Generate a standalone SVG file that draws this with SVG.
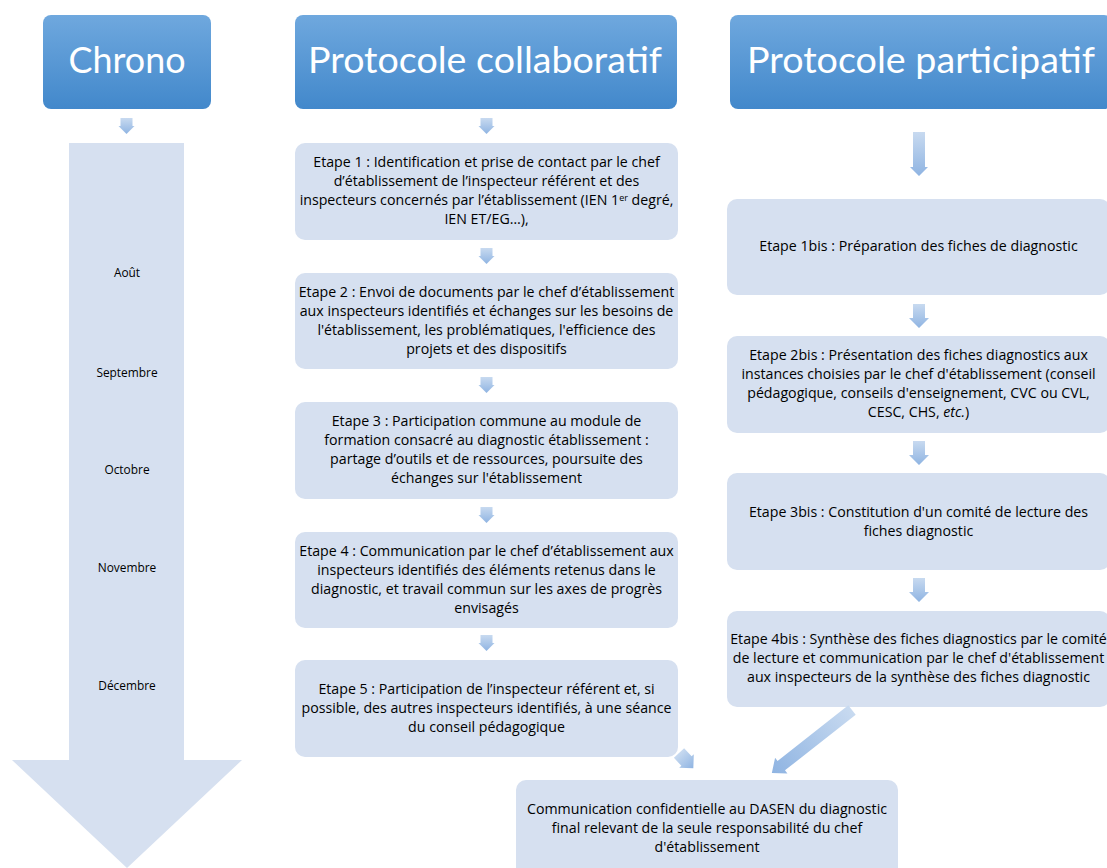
<svg xmlns="http://www.w3.org/2000/svg" width="1107" height="868" viewBox="0 0 1107 868">
  <defs>
    <linearGradient id="hdrFill" x1="0" y1="0" x2="0" y2="1">
      <stop offset="0" stop-color="#6FA8DE"/>
      <stop offset="1" stop-color="#4288CB"/>
    </linearGradient>
    <!-- along the arrow's own axis: light tail, darker tip -->
    <linearGradient id="arrowFill" x1="0" y1="0" x2="1" y2="0">
      <stop offset="0" stop-color="#C8DAF0"/>
      <stop offset="1" stop-color="#8FB4E2"/>
    </linearGradient>
  </defs>
  <style>
    .hdr { fill: url(#hdrFill); }
    .hdrText { font-family: Lato, "Open Sans", sans-serif; font-size: 37px; fill: #FFFFFF; text-anchor: middle; }
    .box { fill: #D6E0F0; }
    .txt { font-family: "Open Sans", Lato, sans-serif; font-size: 14.2px; fill: #000000; text-anchor: middle; }
    .month { font-family: "Open Sans", Lato, sans-serif; font-size: 11.9px; fill: #000000; text-anchor: middle; }
    .arrow { fill: url(#arrowFill); }
    .sup { font-size: 9px; }
  </style>

  <rect width="1107" height="868" fill="#FFFFFF"/>

  <!-- column headers -->
  <g id="header-chrono">
    <rect class="hdr" x="43" y="15" width="168" height="94" rx="8"/>
    <text class="hdrText" x="127" y="73" textLength="117" lengthAdjust="spacingAndGlyphs">Chrono</text>
  </g>
  <g id="header-collaboratif">
    <rect class="hdr" x="295" y="15" width="382" height="94" rx="8"/>
    <text class="hdrText" x="485" y="73" textLength="354" lengthAdjust="spacingAndGlyphs">Protocole collaboratif</text>
  </g>
  <g id="header-participatif">
    <rect class="hdr" x="730" y="15" width="382" height="94" rx="8"/>
    <text class="hdrText" x="921" y="73" textLength="348" lengthAdjust="spacingAndGlyphs">Protocole participatif</text>
  </g>

  <!-- timeline arrow with months -->
  <g id="timeline">
    <polygon class="box" points="69,143 184,143 184,760 242,760 127,868 12,760 69,760"/>
    <text class="month" x="127" y="277">Août</text>
    <text class="month" x="127" y="377">Septembre</text>
    <text class="month" x="127" y="474">Octobre</text>
    <text class="month" x="127" y="572">Novembre</text>
    <text class="month" x="127" y="690">Décembre</text>
  </g>

  <!-- collaborative protocol steps -->
  <g id="etape-1">
    <rect class="box" x="295" y="143" width="383" height="97" rx="10"/>
    <text class="txt" x="486.5" y="167">Etape 1 : Identification et prise de contact par le chef</text>
    <text class="txt" x="486.5" y="186">d’établissement de l’inspecteur référent et des</text>
    <text class="txt" x="486.5" y="205">inspecteurs concernés par l’établissement (IEN 1<tspan class="sup" dy="-4.5">er</tspan><tspan dy="4.5"> degré,</tspan></text>
    <text class="txt" x="486.5" y="224">IEN ET/EG…),</text>
  </g>
  <g id="etape-2">
    <rect class="box" x="295" y="273" width="383" height="96" rx="10"/>
    <text class="txt" x="486.5" y="297">Etape 2 : Envoi de documents par le chef d’établissement</text>
    <text class="txt" x="486.5" y="316">aux inspecteurs identifiés et échanges sur les besoins de</text>
    <text class="txt" x="486.5" y="335">l'établissement, les problématiques, l'efficience des</text>
    <text class="txt" x="486.5" y="354">projets et des dispositifs</text>
  </g>
  <g id="etape-3">
    <rect class="box" x="295" y="402" width="383" height="97" rx="10"/>
    <text class="txt" x="486.5" y="426">Etape 3 : Participation commune au module de</text>
    <text class="txt" x="486.5" y="445">formation consacré au diagnostic établissement :</text>
    <text class="txt" x="486.5" y="464">partage d’outils et de ressources, poursuite des</text>
    <text class="txt" x="486.5" y="483">échanges sur l'établissement</text>
  </g>
  <g id="etape-4">
    <rect class="box" x="295" y="532" width="383" height="96" rx="10"/>
    <text class="txt" x="486.5" y="556">Etape 4 : Communication par le chef d’établissement aux</text>
    <text class="txt" x="486.5" y="575">inspecteurs identifiés des éléments retenus dans le</text>
    <text class="txt" x="486.5" y="594">diagnostic, et travail commun sur les axes de progrès</text>
    <text class="txt" x="486.5" y="613">envisagés</text>
  </g>
  <g id="etape-5">
    <rect class="box" x="295" y="660" width="383" height="97" rx="10"/>
    <text class="txt" x="486.5" y="693.5">Etape 5 : Participation de l’inspecteur référent et, si</text>
    <text class="txt" x="486.5" y="712.5">possible, des autres inspecteurs identifiés, à une séance</text>
    <text class="txt" x="486.5" y="731.5">du conseil pédagogique</text>
  </g>

  <!-- participative protocol steps -->
  <g id="etape-1bis">
    <rect class="box" x="727" y="199" width="383" height="96" rx="10"/>
    <text class="txt" x="918.5" y="251">Etape 1bis : Préparation des fiches de diagnostic</text>
  </g>
  <g id="etape-2bis">
    <rect class="box" x="727" y="336" width="383" height="97" rx="10"/>
    <text class="txt" x="918.5" y="360">Etape 2bis : Présentation des fiches diagnostics aux</text>
    <text class="txt" x="918.5" y="379">instances choisies par le chef d'établissement (conseil</text>
    <text class="txt" x="918.5" y="398">pédagogique, conseils d'enseignement, CVC ou CVL,</text>
    <text class="txt" x="918.5" y="417">CESC, CHS, <tspan font-style="italic">etc.</tspan>)</text>
  </g>
  <g id="etape-3bis">
    <rect class="box" x="727" y="473" width="383" height="97" rx="10"/>
    <text class="txt" x="918.5" y="516.5">Etape 3bis : Constitution d'un comité de lecture des</text>
    <text class="txt" x="918.5" y="535.5">fiches diagnostic</text>
  </g>
  <g id="etape-4bis">
    <rect class="box" x="727" y="611" width="383" height="96" rx="10"/>
    <text class="txt" x="918.5" y="644">Etape 4bis : Synthèse des fiches diagnostics par le comité</text>
    <text class="txt" x="918.5" y="663">de lecture et communication par le chef d'établissement</text>
    <text class="txt" x="918.5" y="682">aux inspecteurs de la synthèse des fiches diagnostic</text>
  </g>

  <!-- final step shared by both protocols -->
  <g id="communication-dasen">
    <rect class="box" x="516" y="780" width="382" height="100" rx="10"/>
    <text class="txt" x="707" y="814">Communication confidentielle au DASEN du diagnostic</text>
    <text class="txt" x="707" y="833">final relevant de la seule responsabilité du chef</text>
    <text class="txt" x="707" y="852">d'établissement</text>
  </g>

  <!-- connectors: block arrows drawn along +x, then placed and rotated -->
  <g id="connectors">
    <path class="arrow" transform="translate(126.5,118) rotate(90)" d="M0,-6 L8,-6 L8,-8 L16,0 L8,8 L8,6 L0,6 Z"/>
    <path class="arrow" transform="translate(486.5,118) rotate(90)" d="M0,-6 L8,-6 L8,-8 L16,0 L8,8 L8,6 L0,6 Z"/>
    <path class="arrow" transform="translate(486.5,248) rotate(90)" d="M0,-6 L8,-6 L8,-8 L16,0 L8,8 L8,6 L0,6 Z"/>
    <path class="arrow" transform="translate(486.5,377) rotate(90)" d="M0,-6 L8,-6 L8,-8 L16,0 L8,8 L8,6 L0,6 Z"/>
    <path class="arrow" transform="translate(486.5,507) rotate(90)" d="M0,-6 L8,-6 L8,-8 L16,0 L8,8 L8,6 L0,6 Z"/>
    <path class="arrow" transform="translate(486.5,635) rotate(90)" d="M0,-6 L8,-6 L8,-8 L16,0 L8,8 L8,6 L0,6 Z"/>

    <path class="arrow" transform="translate(919,132) rotate(90)" d="M0,-6 L35,-6 L35,-9 L44,0 L35,9 L35,6 L0,6 Z"/>
    <path class="arrow" transform="translate(919,304) rotate(90)" d="M0,-6 L14,-6 L14,-10 L24,0 L14,10 L14,6 L0,6 Z"/>
    <path class="arrow" transform="translate(919,441) rotate(90)" d="M0,-6 L14,-6 L14,-10 L24,0 L14,10 L14,6 L0,6 Z"/>
    <path class="arrow" transform="translate(919,578) rotate(90)" d="M0,-6 L14,-6 L14,-10 L24,0 L14,10 L14,6 L0,6 Z"/>

    <path class="arrow" transform="translate(679,753) rotate(47)" d="M0,-7 L11,-7 L11,-10 L21,0 L11,10 L11,7 L0,7 Z"/>
    <path class="arrow" transform="translate(852,710) rotate(141.8)" d="M0,-6 L90,-6 L90,-10 L102,0 L90,10 L90,6 L0,6 Z"/>
  </g>
</svg>
